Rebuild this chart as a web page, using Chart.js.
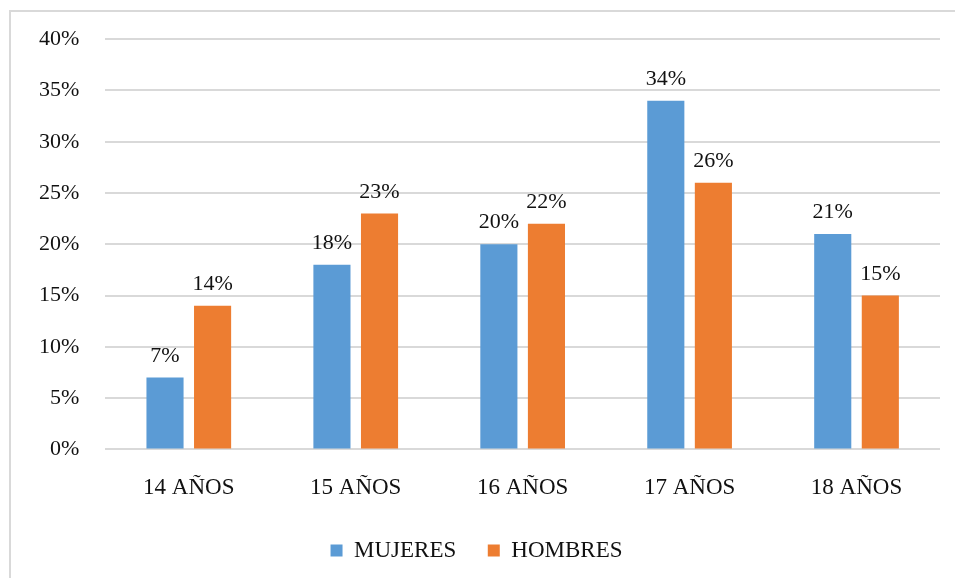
<!DOCTYPE html>
<html>
<head>
<meta charset="utf-8">
<script src="https://cdn.jsdelivr.net/npm/chart.js@4/dist/chart.umd.min.js"></script>
<style>
  html, body { margin: 0; padding: 0; background: #fff; overflow: hidden; }
  .frame {
    position: absolute; left: 9px; top: 10px; width: 1000px; height: 1000px;
    border: 2px solid #d9d9d9; box-sizing: border-box;
  }
  #edadChart { position: absolute; left: 0; top: 0; }
</style>
</head>
<body>
<div class="frame"></div>
<canvas id="edadChart" width="955" height="578"></canvas>
<script>
  // ---- Data ----
  const categories = ['14 AÑOS', '15 AÑOS', '16 AÑOS', '17 AÑOS', '18 AÑOS'];
  const mujeres = [7, 18, 20, 34, 21];
  const hombres = [14, 23, 22, 26, 15];
  const yTicks = [0, 5, 10, 15, 20, 25, 30, 35, 40];

  const FONT = "'Liberation Serif', 'Times New Roman', serif";
  const TEXT = '#111111';

  // ---- Value labels above each bar ----
  const barLabels = {
    id: 'barLabels',
    afterDatasetsDraw(chart) {
      const ctx = chart.ctx;
      ctx.save();
      ctx.font = '22px ' + FONT;
      ctx.fillStyle = TEXT;
      ctx.textAlign = 'center';
      ctx.textBaseline = 'alphabetic';
      chart.data.datasets.forEach((ds, i) => {
        chart.getDatasetMeta(i).data.forEach((bar, j) => {
          ctx.fillText(ds.data[j] + '%', bar.x, bar.y - 16);
        });
      });
      ctx.restore();
    }
  };

  new Chart(document.getElementById('edadChart'), {
    type: 'bar',
    data: {
      labels: categories,
      datasets: [
        { label: 'MUJERES', data: mujeres, backgroundColor: '#5b9bd5' },
        { label: 'HOMBRES', data: hombres, backgroundColor: '#ed7d31' }
      ]
    },
    options: {
      responsive: false,
      animation: false,
      categoryPercentage: 0.57,
      barPercentage: 0.78,
      layout: { padding: { left: 13, right: 15, top: 34, bottom: 6 } },
      plugins: {
        tooltip: { enabled: false },
        legend: {
          position: 'bottom',
          labels: {
            boxWidth: 12, boxHeight: 12, padding: 20,
            color: TEXT, font: { family: FONT, size: 23 },
            // a little extra room between the two entries
            generateLabels: chart => {
              const items = Chart.defaults.plugins.legend.labels.generateLabels(chart);
              items.forEach((it, i) => { if (i < items.length - 1) it.text += '  '; });
              return items;
            }
          }
        }
      },
      scales: {
        x: {
          grid: { display: false },
          border: { display: false },
          ticks: { color: TEXT, padding: 17, font: { family: FONT, size: 23 } }
        },
        y: {
          min: 0, max: 40,
          afterBuildTicks: axis => { axis.ticks = yTicks.map(v => ({ value: v })); },
          grid: { color: '#d9d9d9', lineWidth: 2, drawTicks: false },
          border: { display: false },
          ticks: {
            color: TEXT, padding: 26, font: { family: FONT, size: 22 },
            callback: v => v + '%'
          }
        }
      }
    },
    plugins: [barLabels]
  });
</script>
</body>
</html>
